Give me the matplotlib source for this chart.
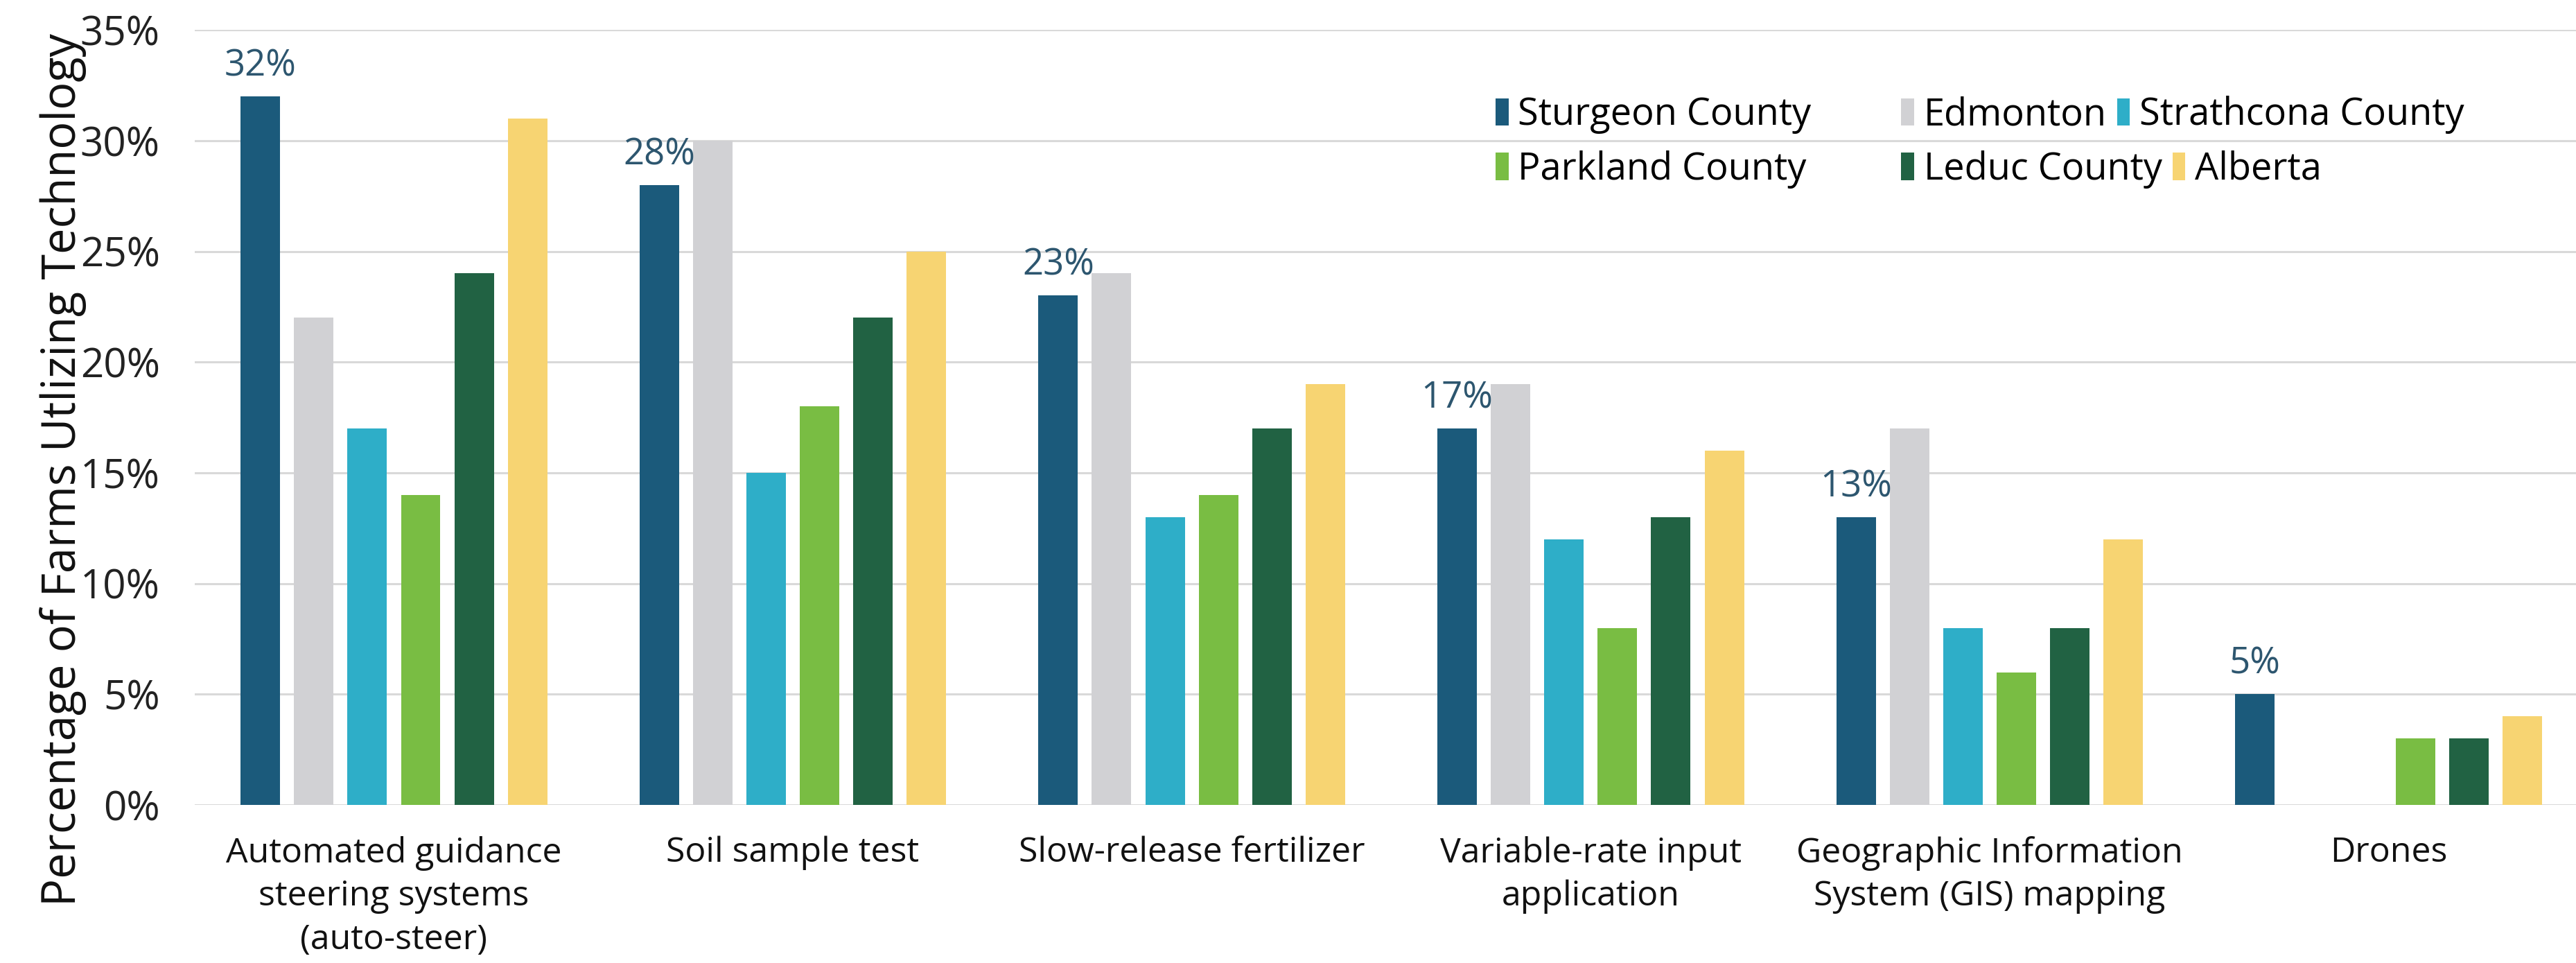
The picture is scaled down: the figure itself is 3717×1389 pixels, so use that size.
import numpy as np
import matplotlib
matplotlib.use("Agg")
import matplotlib.pyplot as plt
from matplotlib.patches import Patch

categories = ["Automated guidance\nsteering systems\n(auto-steer)", "Soil sample test",
              "Slow-release fertilizer", "Variable-rate input\napplication",
              "Geographic Information\nSystem (GIS) mapping", "Drones"]
regions = ["Sturgeon County", "Edmonton", "Strathcona County",
           "Parkland County", "Leduc County", "Alberta"]
sturgeon = [32, 28, 23, 17, 13, 5]
edmonton = [22, 30, 24, 19, 17, 0]
strathcona = [17, 15, 13, 12, 8, 0]
parkland = [14, 18, 14, 8, 6, 3]
leduc = [24, 22, 17, 13, 8, 3]
alberta = [31, 25, 19, 16, 12, 4]
yticks = [0, 5, 10, 15, 20, 25, 30, 35]

colors = ["#1b5a7b", "#d1d1d4", "#2eaec8", "#79bd43", "#216243", "#f7d472"]
series = [sturgeon, edmonton, strathcona, parkland, leduc, alberta]

font = ["Open Sans", "DejaVu Sans"]

fig = plt.figure(figsize=(37.17, 13.89), dpi=100)
ax = fig.add_axes([0.0755, 0.164, 0.9245, 0.805])

x = np.arange(len(categories))
step = 0.134
width = 0.099
for i, (vals, col) in enumerate(zip(series, colors)):
    ax.bar(x + (i - 2.5) * step, vals, width, color=col, zorder=3)

# labels on the Sturgeon bars
for xi, v in zip(x, sturgeon):
    ax.annotate(f"{v}%", (xi - 2.5 * step, v), xytext=(0, 12), textcoords="offset points",
                ha="center", va="bottom", fontsize=38, color="#2d566f", family=font)

ax.set_ylim(0, 35)
ax.set_xlim(-0.5, 5.47)
ax.set_yticks(yticks)
ax.set_yticklabels([f"{t}%" for t in yticks], family=font, fontsize=42, color="#222222")
ax.set_xticks(x)
ax.set_xticklabels(categories, family=font, fontsize=36, color="#111111", linespacing=1.35)
ax.tick_params(axis="both", length=0)
ax.tick_params(axis="y", pad=36)
ax.tick_params(axis="x", pad=32)
ax.yaxis.grid(True, color="#d9d9d9", linewidth=2.2, zorder=0)
for s in ax.spines.values():
    s.set_visible(False)

fig.text(0.0245, 0.512, "Percentage of Farms Utlizing Technology", rotation=90,
         ha="center", va="center", fontsize=48, family=font, color="#111111")

# legend: two flowing rows, first two entries on fixed columns, third follows
rows = [(0.8805, [0, 1, 2]), (0.824, [3, 4, 5])]
col_x = [0.5805, 0.7380]
renderer = fig.canvas.get_renderer()
for ly, idx in rows:
    for k, j in enumerate(idx):
        if k < 2:
            lx = col_x[k]
        else:
            bb = prev.get_window_extent(renderer)
            lx = bb.x1 / fig.bbox.width + 0.004
        prev = fig.legend(handles=[Patch(facecolor=colors[j], label=regions[j])],
                          loc="center left", bbox_to_anchor=(lx, ly), frameon=False,
                          handlelength=0.35, handleheight=0.75, handletextpad=0.25,
                          borderpad=0, borderaxespad=0, prop={"family": font, "size": 39})

fig.savefig("out.png", dpi=100, facecolor="white")
